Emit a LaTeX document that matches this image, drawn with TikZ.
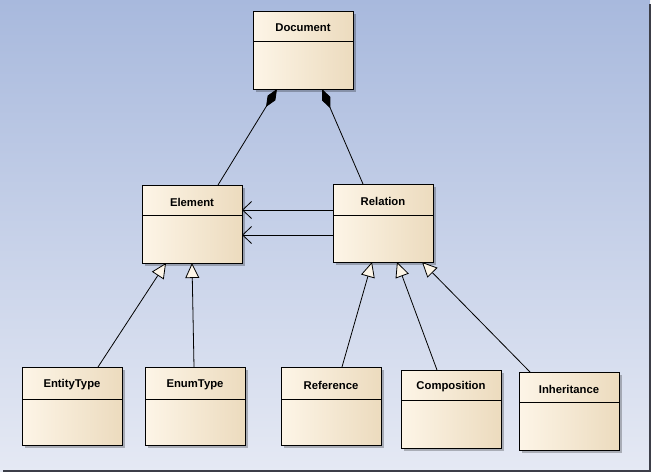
\documentclass[tikz,border=0pt]{standalone}
\usepackage{fontspec}
\setmainfont{Liberation Sans}
\usetikzlibrary{arrows.meta}
\usetikzlibrary{shadows}

\definecolor{bgtop}{RGB}{168,185,221}
\definecolor{bgbot}{RGB}{229,233,244}
\definecolor{boxL}{RGB}{253,245,231}
\definecolor{boxM}{RGB}{251,242,226}
\definecolor{boxR}{RGB}{236,219,190}
\definecolor{frameC}{RGB}{60,62,72}

\begin{document}
\begin{tikzpicture}[x=1pt, y=-1pt,
	every node/.style={font=\fontsize{11.3}{13}\selectfont\bfseries},
	classbox/.style={draw, line width=0.9pt, anchor=north west, minimum width=100pt, minimum height=78pt,
		inner sep=0pt, outer sep=0pt, left color=boxL, middle color=boxM, right color=boxR,
		drop shadow={shadow xshift=3pt, shadow yshift=-3pt, fill=black, opacity=0.25}},
	comp/.style={line width=0.8pt, {Diamond[length=21pt, width=9pt]}-},
	inh/.style={line width=0.8pt, -{Triangle[open, fill=boxL, length=15pt, width=14pt]}},
	assoc/.style={line width=0.8pt, -{Straight Barb[length=9pt, width=17pt]}}]
	\useasboundingbox (0,0) rectangle (655,475);
	% background and frame
	\fill[white] (0,0) rectangle (655,475);
	\shade[top color=bgtop, bottom color=bgbot] (0,0) rectangle (650,471);
	\draw[frameC, line width=1.6pt] (650,4) -- (650,471) -- (3,471);

	% classes
	\node[classbox] (doc) at (253,11) {};
	\node[classbox] (elem) at (142,185) {};
	\node[classbox] (rel) at (333,184) {};
	\node[classbox] (ent) at (22,367) {};
	\node[classbox] (enum) at (145,367) {};
	\node[classbox] (ref) at (281,367) {};
	\node[classbox] (comp) at (401,370) {};
	\node[classbox] (inh) at (519,372) {};

	\foreach \n/\d in {doc/30, elem/30, rel/31, ent/32, enum/32, ref/32, comp/30, inh/30}
		\draw[line width=0.9pt] ([yshift=-\d pt]\n.north west) -- ([yshift=-\d pt]\n.north east);

	\node (doc-t) at ([yshift=-17pt]doc.north) {Document};
	\node (elem-t) at ([yshift=-17pt]elem.north) {Element};
	\node (rel-t) at ([yshift=-17pt]rel.north) {Relation};
	\node (ent-t) at ([yshift=-18pt]ent.north) {EntityType};
	\node (enum-t) at ([yshift=-18pt]enum.north) {EnumType};
	\node (ref-t) at ([yshift=-18pt]ref.north) {Reference};
	\node (comp-t) at ([yshift=-17pt]comp.north) {Composition};
	\node (inh-t) at ([yshift=-17pt]inh.north) {Inheritance};

	% composition
	\draw[comp] ([xshift=24pt]doc.south west) -- ([xshift=76pt]elem.north west);
	\draw[comp] ([xshift=69pt]doc.south west) -- ([xshift=30pt]rel.north west);

	% associations
	\draw[assoc] ([yshift=-26pt]rel.north west) -- ([yshift=-25pt]elem.north east);
	\draw[assoc] ([yshift=-51pt]rel.north west) -- ([yshift=-50pt]elem.north east);

	% generalisation
	\draw[inh] ([xshift=76pt]ent.north west) -- ([xshift=24pt]elem.south west);
	\draw[inh] ([xshift=49pt]enum.north west) -- ([xshift=50pt]elem.south west);
	\draw[inh] ([xshift=61pt]ref.north west) -- ([xshift=39pt]rel.south west);
	\draw[inh] ([xshift=36pt]comp.north west) -- ([xshift=64pt]rel.south west);
	\draw[inh] ([xshift=11pt]inh.north west) -- ([xshift=89pt]rel.south west);
\end{tikzpicture}
\end{document}
